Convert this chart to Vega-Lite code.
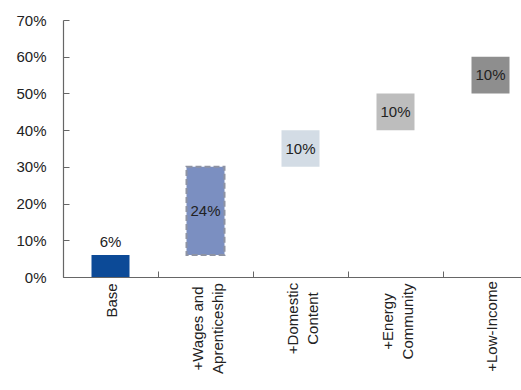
{
  "$schema": "https://vega.github.io/schema/vega-lite/v6.json",
  "autosize": {"type": "none"},
  "padding": {"left": 63, "top": 20, "right": 0, "bottom": 113},
  "width": 475,
  "height": 257,
  "background": "white",
  "config": {"view": {"stroke": null}, "font": "Liberation Sans"},
  "data": {"values": [
    {"cat": "Base", "start": 0, "end": 6, "label": "6%"},
    {"cat": "+Wages and Aprenticeship", "start": 6, "end": 30, "label": "24%"},
    {"cat": "+Domestic Content", "start": 30, "end": 40, "label": "10%"},
    {"cat": "+Energy Community", "start": 40, "end": 50, "label": "10%"},
    {"cat": "+Low-Income", "start": 50, "end": 60, "label": "10%"}
  ]},
  "transform": [{"calculate": "(datum.start + datum.end) / 2", "as": "mid"}],
  "resolve": {"axis": {"x": "independent"}},
  "layer": [
    {
      "mark": {"type": "bar", "width": {"band": 0.4}},
      "encoding": {
        "x": {"field": "cat", "type": "nominal", "sort": null,
          "scale": {"paddingInner": 0, "paddingOuter": 0},
          "axis": {"title": null, "orient": "bottom", "ticks": false, "domainColor": "#666", "domainWidth": 1.2,
            "labelAngle": 270, "labelAlign": "center", "labelBaseline": "middle",
            "labelFontSize": 15, "labelColor": "#222", "labelLineHeight": 20, "labelLimit": 0, "labelOverlap": false,
            "labelPadding": {"condition": [
              {"test": "datum.value == 'Base'", "value": 23},
              {"test": "datum.value == '+Wages and Aprenticeship'", "value": 51},
              {"test": "datum.value == '+Domestic Content'", "value": 41},
              {"test": "datum.value == '+Energy Community'", "value": 44}
            ], "value": 49},
            "labelOffset": {"condition": {"test": "datum.value == 'Base' || datum.value == '+Low-Income'", "value": 1}, "value": -8},
            "labelExpr": "datum.value == '+Wages and Aprenticeship' ? ['+Wages and', 'Aprenticeship'] : datum.value == '+Domestic Content' ? ['+Domestic', 'Content'] : datum.value == '+Energy Community' ? ['+Energy', 'Community'] : datum.value"}},
        "y": {"field": "start", "type": "quantitative", "scale": {"domain": [0, 70]},
          "axis": {"title": null, "values": [0, 10, 20, 30, 40, 50, 60, 70], "labelExpr": "datum.value + '%'",
            "grid": false, "tickSize": -6, "tickColor": "#666", "domainColor": "#666", "domainWidth": 1.2,
            "labelFontSize": 15, "labelColor": "#222", "labelPadding": 23, "labelOverlap": false}},
        "y2": {"field": "end"},
        "color": {"field": "cat", "type": "nominal", "legend": null,
          "scale": {"domain": ["Base", "+Wages and Aprenticeship", "+Domestic Content", "+Energy Community", "+Low-Income"],
            "range": ["#0c4a97", "#7b8fc1", "#d3dce5", "#bdbdbd", "#8e8e8e"]}},
        "stroke": {"condition": {"test": "datum.cat == '+Wages and Aprenticeship'", "value": "#8e93a3"}, "value": null},
        "strokeDash": {"condition": {"test": "datum.cat == '+Wages and Aprenticeship'", "value": [6, 3]}, "value": [1, 0]},
        "strokeWidth": {"condition": {"test": "datum.cat == '+Wages and Aprenticeship'", "value": 2}, "value": 0}
      }
    },
    {
      "mark": {"type": "bar", "width": {"band": 0.4}, "opacity": 0},
      "encoding": {
        "x": {"field": "cat", "type": "nominal", "sort": null,
          "axis": {"title": null, "orient": "bottom", "bandPosition": 0, "labels": false, "domain": false,
            "ticks": true, "tickSize": -6, "tickColor": "#666"}},
        "y": {"field": "start", "type": "quantitative",
          "axis": {"title": null, "values": [0, 10, 20, 30, 40, 50, 60, 70], "labelExpr": "datum.value + '%'",
            "grid": false, "tickSize": -6, "tickColor": "#666", "domainColor": "#666", "domainWidth": 1.2,
            "labelFontSize": 15, "labelColor": "#222", "labelPadding": 23, "labelOverlap": false}},
        "y2": {"field": "end"}
      }
    },
    {
      "transform": [{"filter": "datum.cat == 'Base'"}],
      "mark": {"type": "text", "baseline": "alphabetic", "dy": -8, "fontSize": 15, "color": "#222"},
      "encoding": {
        "x": {"field": "cat", "type": "nominal", "sort": null, "axis": null},
        "y": {"field": "end", "type": "quantitative",
          "axis": {"title": null, "values": [0, 10, 20, 30, 40, 50, 60, 70], "labelExpr": "datum.value + '%'",
            "grid": false, "tickSize": -6, "tickColor": "#666", "domainColor": "#666", "domainWidth": 1.2,
            "labelFontSize": 15, "labelColor": "#222", "labelPadding": 23, "labelOverlap": false}},
        "text": {"field": "label"}
      }
    },
    {
      "transform": [{"filter": "datum.cat != 'Base'"}],
      "mark": {"type": "text", "baseline": "middle", "fontSize": 15, "color": "#222"},
      "encoding": {
        "x": {"field": "cat", "type": "nominal", "sort": null, "axis": null},
        "y": {"field": "mid", "type": "quantitative",
          "axis": {"title": null, "values": [0, 10, 20, 30, 40, 50, 60, 70], "labelExpr": "datum.value + '%'",
            "grid": false, "tickSize": -6, "tickColor": "#666", "domainColor": "#666", "domainWidth": 1.2,
            "labelFontSize": 15, "labelColor": "#222", "labelPadding": 23, "labelOverlap": false}},
        "text": {"field": "label"}
      }
    }
  ]
}
